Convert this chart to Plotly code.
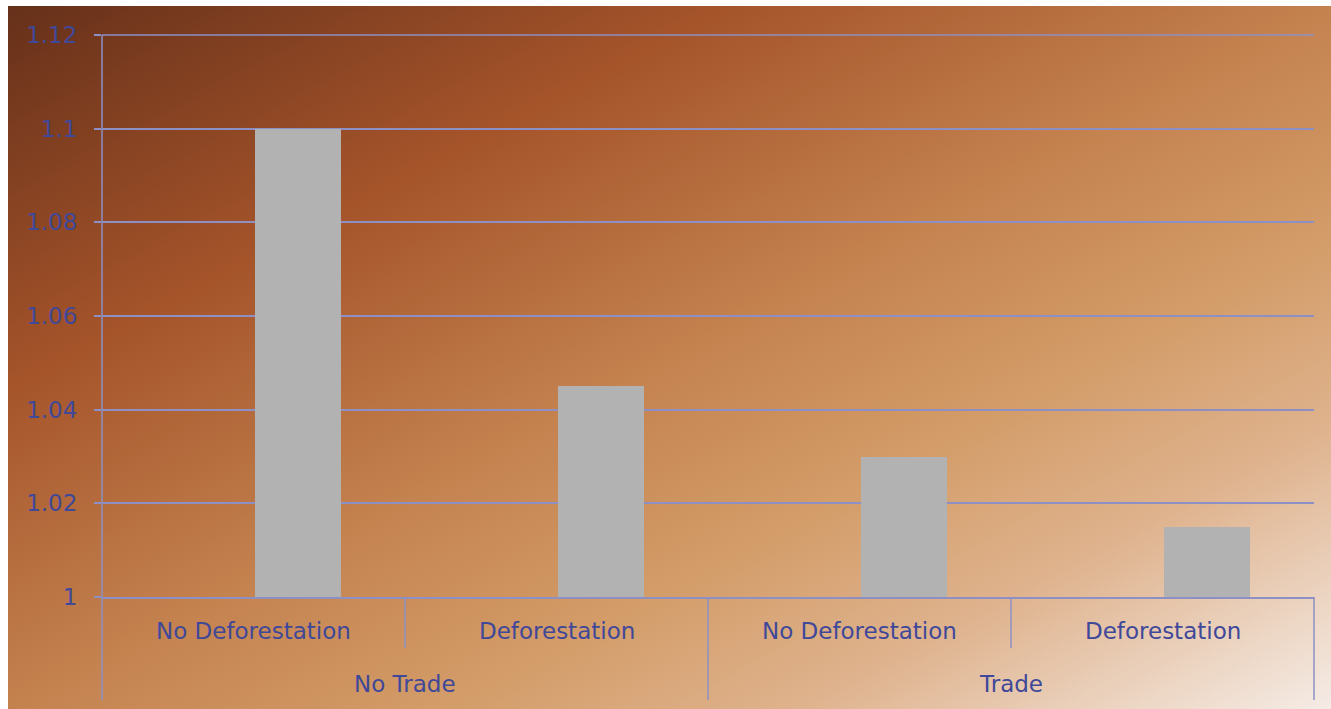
import base64
import plotly.graph_objects as go

# Data
trade_groups = ["No Trade", "No Trade", "Trade", "Trade"]
scenarios = ["No Deforestation", "Deforestation", "No Deforestation", "Deforestation"]
values = [1.10, 1.045, 1.03, 1.015]
y_ticks = [1.0, 1.02, 1.04, 1.06, 1.08, 1.10, 1.12]
y_tick_labels = ["1", "1.02", "1.04", "1.06", "1.08", "1.1", "1.12"]

LINE = "#8C90C4"
TEXT = "#3F4899"
FONT = "DejaVu Sans"

# Diagonal brown-to-cream backdrop as an inline SVG gradient
svg = """<svg xmlns='http://www.w3.org/2000/svg' viewBox='0 0 100 100' preserveAspectRatio='none'>
<defs><linearGradient id='g' x1='0' y1='0' x2='1' y2='1'>
<stop offset='0' stop-color='#66301A'/>
<stop offset='0.27' stop-color='#A5542A'/>
<stop offset='0.5' stop-color='#C4824F'/>
<stop offset='0.66' stop-color='#D39C68'/>
<stop offset='0.8' stop-color='#DFB38E'/>
<stop offset='1' stop-color='#F5ECE6'/>
</linearGradient></defs>
<rect x='0' y='0' width='100' height='100' fill='url(#g)'/>
</svg>"""
bg_src = "data:image/svg+xml;base64," + base64.b64encode(svg.encode()).decode()

fig = go.Figure()
fig.add_trace(go.Bar(
    x=[trade_groups, scenarios],
    y=values,
    base=0,
    width=0.283,
    offset=0.005,
    marker=dict(color="#B2B2B2", line=dict(width=0)),
    showlegend=False,
))

# geometry of the plot area in pixels
W, H = 1331, 709
L, R, T, B = 102, 17, 35, 112
pw, ph = W - L - R, H - T - B

def px_x(x):
    return (x - L) / pw

def px_y(y):
    return (H - B - y) / ph

shapes = []
# top gridline at the range edge
shapes.append(dict(type="line", xref="paper", yref="paper",
                   x0=0, x1=1, y0=1, y1=1,
                   line=dict(color=LINE, width=1.5)))
# left axis line running down through the category labels
shapes.append(dict(type="line", xref="paper", yref="paper",
                   x0=0, x1=0, y0=px_y(700), y1=1,
                   line=dict(color=LINE, width=1.5)))
# group dividers below the axis
for frac, ybot in [(0.25, 648), (0.5, 700), (0.75, 648), (1.0, 700)]:
    shapes.append(dict(type="line", xref="paper", yref="paper",
                       x0=frac, x1=frac, y0=px_y(ybot), y1=0,
                       line=dict(color=LINE, width=1.5)))

# two-level category labels
annotations = []
n = len(scenarios)
for i, lab in enumerate(scenarios):
    annotations.append(dict(text=lab, xref="paper", yref="paper",
                            x=(i + 0.5) / n, y=px_y(631),
                            xanchor="center", yanchor="middle",
                            showarrow=False,
                            font=dict(family=FONT, size=23, color=TEXT)))
groups = []
for g in trade_groups:
    if g not in groups:
        groups.append(g)
for gi, g in enumerate(groups):
    idx = [i for i, t in enumerate(trade_groups) if t == g]
    center = (idx[0] + idx[-1] + 1) / 2 / n
    annotations.append(dict(text=g, xref="paper", yref="paper",
                            x=center, y=px_y(684),
                            xanchor="center", yanchor="middle",
                            showarrow=False,
                            font=dict(family=FONT, size=23, color=TEXT)))

fig.update_layout(
    width=W, height=H,
    margin=dict(l=L, r=R, t=T, b=B),
    paper_bgcolor="white",
    plot_bgcolor="rgba(0,0,0,0)",
    font=dict(family=FONT, size=23, color=TEXT),
    bargap=0,
    images=[dict(source=bg_src, xref="paper", yref="paper",
                 x=px_x(8), y=px_y(6), sizex=px_x(W) - px_x(8),
                 sizey=px_y(6) - px_y(H), xanchor="left", yanchor="top",
                 sizing="stretch", layer="below")],
    shapes=shapes,
    annotations=annotations,
    xaxis=dict(
        type="multicategory",
        showdividers=False,
        showgrid=False,
        showticklabels=False,
        ticks="",
        showline=True, linecolor=LINE, linewidth=1.5,
        range=[-0.5, 3.5],
    ),
    yaxis=dict(
        range=[1.0, 1.12],
        tickvals=y_ticks,
        ticktext=y_tick_labels,
        showgrid=True, gridcolor=LINE, gridwidth=1.5,
        ticks="outside", ticklen=7, tickcolor=LINE, tickwidth=1.5,
        ticklabelstandoff=12,
        zeroline=False,
        showline=False,
        tickfont=dict(family=FONT, size=23, color=TEXT),
    ),
)

fig.write_html("out.html")
